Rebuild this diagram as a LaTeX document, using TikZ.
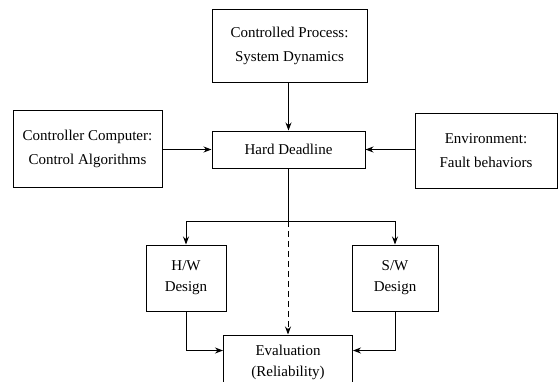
\documentclass[tikz,border=0pt]{standalone}
\usepackage{fontspec}
\setmainfont{Liberation Serif}
\usetikzlibrary{arrows.meta,positioning,calc}
\begin{document}
\begin{tikzpicture}[x=1pt,y=-1pt,
  box/.style={draw, line width=1pt, rectangle, align=center, inner sep=0pt,
    font=\fontsize{15}{24}\selectfont},
  arr/.style={line width=1pt, -{Stealth[length=8pt,width=6pt]}},
  ln/.style={line width=1pt}]
\useasboundingbox (0,0) rectangle (560,381);
\node[box, minimum width=155pt, minimum height=73pt] (proc) at (289.5,45.5) {Controlled Process:\\System Dynamics};
\node[box, minimum width=153pt, minimum height=37pt] (hard) at (288.5,149.5) {Hard Deadline};
\node[box, minimum width=149pt, minimum height=77pt] (ctrl) at (87.5,148.5) {Controller Computer:\\Control Algorithms};
\node[box, minimum width=142pt, minimum height=75pt] (env) at (486,150.5) {Environment:\\Fault behaviors};
\node[box, minimum width=80pt, minimum height=66pt, font=\fontsize{15}{21}\selectfont] (hw) at (186,278) {H/W\\Design};
\node[box, minimum width=86pt, minimum height=66pt, font=\fontsize{15}{21}\selectfont] (sw) at (395,278) {S/W\\Design};
\node[box, minimum width=129pt, minimum height=54pt, font=\fontsize{15}{21}\selectfont] (eval) at (288,362) {Evaluation\\(Reliability)};
\coordinate (br) at (288,221);
\draw[arr] (proc.south -| hard.north) -- (hard.north);
\draw[arr] (ctrl.east |- hard.west) -- (hard.west);
\draw[arr] (env.west |- hard.east) -- (hard.east);
\draw[ln] (hard.south -| br) -- (br);
\draw[arr] (br) -| (hw.north);
\draw[arr] (br) -| (sw.north);
\draw[arr, dashed, dash pattern=on 6pt off 4pt] (br) -- (br |- eval.north);
\draw[arr] (hw.south) |- ([yshift=-16pt]eval.north west);
\draw[arr] (sw.south) |- ([yshift=-16pt]eval.north east);
\end{tikzpicture}
\end{document}
